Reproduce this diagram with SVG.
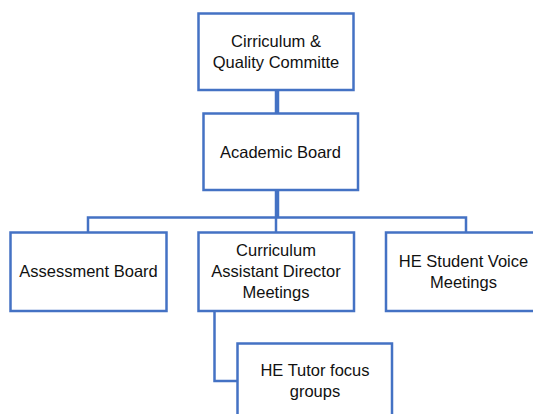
<svg xmlns="http://www.w3.org/2000/svg" width="533" height="414" viewBox="0 0 533 414">
  <style>
    .box { fill: #ffffff; stroke: #4472C4; stroke-width: 2.5; }
    .lbl { font-family: "Liberation Sans", Arial, sans-serif; font-size: 16.5px; fill: #111111; text-anchor: middle; }
    .conn { fill: none; stroke: #4472C4; stroke-width: 2.5; }
    .thick { stroke-width: 4.5; }
  </style>
  <rect width="533" height="414" fill="#ffffff"/>
  <g id="connectors">
    <line class="conn thick" x1="277" y1="90" x2="277" y2="113"/>
    <line class="conn thick" x1="277" y1="190" x2="277" y2="218"/>
    <polyline class="conn" points="88,232 88,217.5 466,217.5 466,232"/>
    <line class="conn" x1="276" y1="217.5" x2="276" y2="232"/>
    <polyline class="conn" points="214.5,311 214.5,381 237,381"/>
  </g>
  <g id="cirriculum-quality">
    <rect class="box" x="198.5" y="13.5" width="155" height="76.5"/>
    <text class="lbl" x="276" y="47">Cirriculum &amp;</text>
    <text class="lbl" x="276" y="68">Quality Committe</text>
  </g>
  <g id="academic-board">
    <rect class="box" x="203.5" y="113.5" width="154.5" height="76.5"/>
    <text class="lbl" x="280.5" y="157.5">Academic Board</text>
  </g>
  <g id="assessment-board">
    <rect class="box" x="10.5" y="232.5" width="156" height="78.5"/>
    <text class="lbl" x="88.5" y="277">Assessment Board</text>
  </g>
  <g id="curriculum-ad-meetings">
    <rect class="box" x="198.5" y="232.5" width="155.5" height="78.5"/>
    <text class="lbl" x="276" y="256">Curriculum</text>
    <text class="lbl" x="276" y="277">Assistant Director</text>
    <text class="lbl" x="276" y="298">Meetings</text>
  </g>
  <g id="he-student-voice">
    <rect class="box" x="386" y="232.5" width="160" height="78.5"/>
    <text class="lbl" x="463.5" y="267">HE Student Voice</text>
    <text class="lbl" x="463.5" y="288">Meetings</text>
  </g>
  <g id="he-tutor-focus">
    <rect class="box" x="237.5" y="343.5" width="154.5" height="80"/>
    <text class="lbl" x="315" y="376">HE Tutor focus</text>
    <text class="lbl" x="315" y="397">groups</text>
  </g>
</svg>
